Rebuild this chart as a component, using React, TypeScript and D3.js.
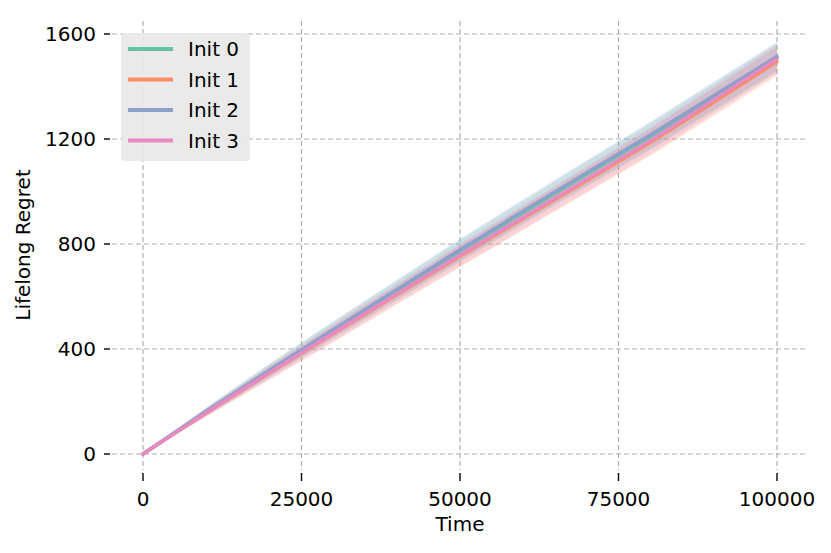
import React from "react";
import * as d3 from "d3";

const times = [0, 5000, 10000, 20000, 30000, 40000, 50000, 60000, 70000, 80000, 90000, 100000];
const seriesNames = ["Init 0", "Init 1", "Init 2", "Init 3"];
const init0 = [0, 81, 162, 318, 471, 622, 773, 920, 1066, 1209, 1359, 1510];
const init1 = [0, 79, 157, 309, 458, 606, 753, 898, 1042, 1186, 1340, 1495];
const init2 = [0, 82, 163, 320, 474, 626, 778, 926, 1072, 1215, 1365, 1515];
const init3 = [0, 79, 158, 311, 461, 610, 758, 903, 1048, 1193, 1349, 1505];
const spread = [0, 8, 15, 25, 32, 37, 42, 45, 48, 51, 53, 55];
const colors = ["#66c2a5", "#fc8d62", "#8da0cb", "#e78ac3"];
const xTicks = [0, 25000, 50000, 75000, 100000];
const yTicks = [0, 400, 800, 1200, 1600];

export default function App() {
  const W = 831, H = 553;
  const left = 112, right = 808, top = 21, bottom = 470;
  const x = d3.scaleLinear().domain([0, 100000]).range([143, 777]);
  const y = d3.scaleLinear().domain([0, 1600]).range([454, 34]);
  const all = [init0, init1, init2, init3];
  const font = "DejaVu Sans, sans-serif";
  const fs = 20;
  const line = d3.line<number>().x((_, i) => x(times[i])).y((d) => y(d));
  const area = (vals: number[]) =>
    d3.area<number>()
      .x((_, i) => x(times[i]))
      .y0((d, i) => y(d - spread[i]))
      .y1((d, i) => y(d + spread[i]))(vals) || "";

  return (
    <svg width={W} height={H} style={{ position: "absolute", left: 0, top: 0 }} fontFamily={font}>
      <rect width={W} height={H} fill="#fff" />
      {xTicks.map((t) => (
        <line key={"gx" + t} x1={x(t)} x2={x(t)} y1={top} y2={bottom} stroke="#b0b0b0" strokeWidth={1.2} strokeDasharray="5,3" />
      ))}
      {yTicks.map((t) => (
        <line key={"gy" + t} x1={left} x2={right} y1={y(t)} y2={y(t)} stroke="#b0b0b0" strokeWidth={1.2} strokeDasharray="5,3" />
      ))}
      {all.map((vals, k) => (
        <path key={"a" + k} d={area(vals)} fill={colors[k]} opacity={0.22} />
      ))}
      {all.map((vals, k) => (
        <path key={"l" + k} d={line(vals) || ""} fill="none" stroke={colors[k]} strokeWidth={3.4} strokeLinecap="round" />
      ))}
      {yTicks.map((t) => (
        <g key={"ty" + t}>
          <line x1={104} x2={110} y1={y(t)} y2={y(t)} stroke="#000" strokeWidth={1.4} />
          <text x={96} y={y(t)} dy="0.36em" textAnchor="end" fontSize={fs}>{t}</text>
        </g>
      ))}
      {xTicks.map((t) => (
        <g key={"tx" + t}>
          <line x1={x(t)} x2={x(t)} y1={473} y2={481} stroke="#000" strokeWidth={1.4} />
          <text x={x(t)} y={506} textAnchor="middle" fontSize={fs}>{t}</text>
        </g>
      ))}
      <text x={460} y={531} textAnchor="middle" fontSize={fs}>Time</text>
      <text transform={`translate(30,245) rotate(-90)`} textAnchor="middle" fontSize={fs}>Lifelong Regret</text>
      <rect x={121} y={33} width={129} height={128} rx={4} fill="#e8e8e8" opacity={0.9} />
      {seriesNames.map((n, k) => (
        <g key={"lg" + k}>
          <line x1={128} x2={173} y1={49 + k * 30.5} y2={49 + k * 30.5} stroke={colors[k]} strokeWidth={4} />
          <text x={188} y={49 + k * 30.5} dy="0.36em" fontSize={fs}>{n}</text>
        </g>
      ))}
    </svg>
  );
}
